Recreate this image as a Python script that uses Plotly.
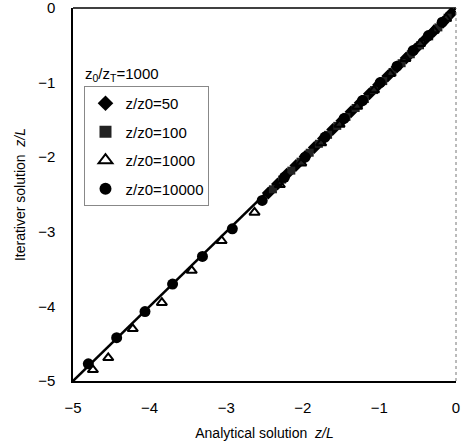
import plotly.graph_objects as go

# ---- data ----
d50_x = [-2.45, -2.33, -2.21, -2.09, -1.97, -1.85, -1.73, -1.61, -1.49, -1.37, -1.25, -1.13,
         -1.01, -0.89, -0.77, -0.65, -0.53, -0.41, -0.29, -0.17, -0.06]
d50_y = [-2.48, -2.36, -2.23, -2.11, -1.99, -1.87, -1.75, -1.63, -1.51, -1.39, -1.27, -1.15,
         -1.03, -0.91, -0.79, -0.67, -0.55, -0.43, -0.31, -0.19, -0.07]

d100_x = [-2.39, -2.27, -2.15, -2.03, -1.91, -1.79, -1.67, -1.55, -1.43, -1.31, -1.19, -1.07,
          -0.95, -0.83, -0.71, -0.59, -0.47, -0.35, -0.23, -0.11]
d100_y = [-2.43, -2.30, -2.18, -2.06, -1.94, -1.82, -1.70, -1.58, -1.46, -1.34, -1.22, -1.10,
          -0.98, -0.86, -0.74, -0.62, -0.50, -0.38, -0.26, -0.13]

d1000_x = [-4.74, -4.54, -4.22, -3.84, -3.45, -3.06, -2.63, -2.30, -2.02, -1.76, -1.52, -1.29,
           -1.07, -0.86, -0.66, -0.47, -0.29, -0.13]
d1000_y = [-4.85, -4.69, -4.30, -3.95, -3.52, -3.12, -2.74, -2.37, -2.08, -1.81, -1.56, -1.32,
           -1.10, -0.88, -0.68, -0.48, -0.30, -0.14]

d10000_x = [-4.80, -4.43, -4.06, -3.70, -3.31, -2.92, -2.53, -2.24, -1.97, -1.71, -1.46, -1.22,
            -0.99, -0.77, -0.56, -0.36, -0.18]
d10000_y = [-4.77, -4.42, -4.07, -3.70, -3.33, -2.96, -2.58, -2.27, -2.00, -1.73, -1.48, -1.24,
            -1.00, -0.78, -0.57, -0.37, -0.19]

line_x = [-5, 0]
line_y = [-5, 0]

tick_vals = [-5, -4, -3, -2, -1, 0]
tick_text = ["\u22125", "\u22124", "\u22123", "\u22122", "\u22121", "0"]

FONT = "Liberation Sans, Arial, sans-serif"

fig = go.Figure()
fig.add_trace(go.Scatter(x=line_x, y=line_y, mode="lines",
                         line=dict(color="black", width=2.5), showlegend=False, hoverinfo="skip"))
fig.add_trace(go.Scatter(x=d50_x, y=d50_y, mode="markers", name="z/z0=50", legendgroup="a",
                         marker=dict(symbol="diamond", size=10, color="black")))
fig.add_trace(go.Scatter(x=d100_x, y=d100_y, mode="markers", name="z/z0=100", legendgroup="b",
                         marker=dict(symbol="square", size=8, color="#222222")))
fig.add_trace(go.Scatter(x=d1000_x, y=d1000_y, mode="markers", name="z/z0=1000", legendgroup="c",
                         marker=dict(symbol="triangle-up-open", size=9, color="black",
                                     line=dict(width=2, color="black"))))
fig.add_trace(go.Scatter(x=d10000_x, y=d10000_y, mode="markers", name="z/z0=10000", legendgroup="d",
                         marker=dict(symbol="circle", size=11, color="black")))

fig.update_layout(
    width=461, height=448,
    margin=dict(l=73, r=5, t=8, b=67, autoexpand=False),
    paper_bgcolor="white", plot_bgcolor="white",
    font=dict(family=FONT, size=14, color="black"),
    legend=dict(
        x=0.03, y=0.791, xanchor="left", yanchor="top",
        bgcolor="white", bordercolor="#888888", borderwidth=1,
        font=dict(size=15), tracegroupgap=6, itemsizing="constant", itemwidth=30,
    ),
    annotations=[
        dict(text="z<sub>0</sub>/z<sub>T</sub>=1000", xref="paper", yref="paper",
             x=0.026, y=0.821, xanchor="left", yanchor="middle", showarrow=False,
             font=dict(size=15)),
    ],
    xaxis=dict(range=[-5, 0], tickvals=tick_vals, ticktext=tick_text, automargin=False,
               showgrid=False, zeroline=False, showline=True, linecolor="black", linewidth=1.5,
               ticks="", tickfont=dict(size=15), ticklabeloverflow="allow", ticklabelstandoff=12,
               title=dict(text="Analytical solution  <i>z/L</i>", font=dict(size=14), standoff=13)),
    yaxis=dict(range=[-5, 0], tickvals=tick_vals, ticktext=tick_text, automargin=False,
               showgrid=False, zeroline=False, showline=True, linecolor="black", linewidth=1.5,
               ticks="", tickfont=dict(size=15), ticklabelstandoff=13, ticklabeloverflow="allow",
               title=dict(text="Iterativer solution  <i>z/L</i>", font=dict(size=14), standoff=9)),
    shapes=[
        dict(type="line", xref="paper", yref="paper", x0=0, x1=1, y0=1, y1=1,
             line=dict(color="black", width=1.5)),
        dict(type="line", xref="paper", yref="paper", x0=1, x1=1, y0=0, y1=1,
             line=dict(color="#777777", width=1, dash="dot")),
    ],
)

fig.write_html("out.html", config={"displayModeBar": False},
               post_script="document.body.style.margin='0px';")
